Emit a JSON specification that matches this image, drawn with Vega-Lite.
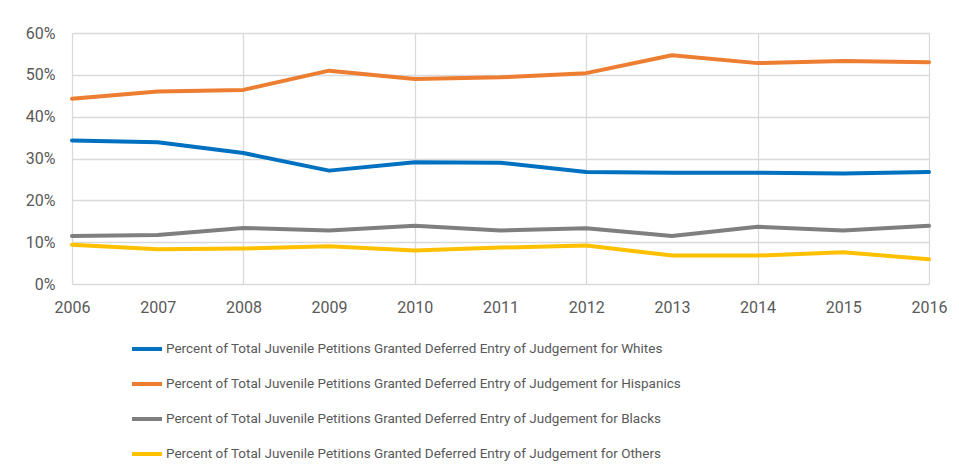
{
  "$schema": "https://vega.github.io/schema/vega-lite/v6.json",
  "autosize": "none",
  "width": 857,
  "height": 251,
  "padding": {"left": 72, "top": 33, "right": 30, "bottom": 192},
  "background": "white",
  "config": {
    "view": {"stroke": null},
    "font": "Roboto",
    "axis": {"labelFont": "Roboto", "labelColor": "#595959", "labelFontSize": 16, "gridColor": "#d9d9d9", "gridWidth": 1.3, "domain": false, "ticks": false, "title": null}
  },
  "data": {
    "values": [
      {"year": 2006, "group": "Percent of Total Juvenile Petitions Granted Deferred Entry of Judgement for Whites", "value": 0.343},
      {"year": 2007, "group": "Percent of Total Juvenile Petitions Granted Deferred Entry of Judgement for Whites", "value": 0.339},
      {"year": 2008, "group": "Percent of Total Juvenile Petitions Granted Deferred Entry of Judgement for Whites", "value": 0.313},
      {"year": 2009, "group": "Percent of Total Juvenile Petitions Granted Deferred Entry of Judgement for Whites", "value": 0.271},
      {"year": 2010, "group": "Percent of Total Juvenile Petitions Granted Deferred Entry of Judgement for Whites", "value": 0.291},
      {"year": 2011, "group": "Percent of Total Juvenile Petitions Granted Deferred Entry of Judgement for Whites", "value": 0.290},
      {"year": 2012, "group": "Percent of Total Juvenile Petitions Granted Deferred Entry of Judgement for Whites", "value": 0.268},
      {"year": 2013, "group": "Percent of Total Juvenile Petitions Granted Deferred Entry of Judgement for Whites", "value": 0.266},
      {"year": 2014, "group": "Percent of Total Juvenile Petitions Granted Deferred Entry of Judgement for Whites", "value": 0.266},
      {"year": 2015, "group": "Percent of Total Juvenile Petitions Granted Deferred Entry of Judgement for Whites", "value": 0.264},
      {"year": 2016, "group": "Percent of Total Juvenile Petitions Granted Deferred Entry of Judgement for Whites", "value": 0.268},
      {"year": 2006, "group": "Percent of Total Juvenile Petitions Granted Deferred Entry of Judgement for Hispanics", "value": 0.443},
      {"year": 2007, "group": "Percent of Total Juvenile Petitions Granted Deferred Entry of Judgement for Hispanics", "value": 0.460},
      {"year": 2008, "group": "Percent of Total Juvenile Petitions Granted Deferred Entry of Judgement for Hispanics", "value": 0.464},
      {"year": 2009, "group": "Percent of Total Juvenile Petitions Granted Deferred Entry of Judgement for Hispanics", "value": 0.510},
      {"year": 2010, "group": "Percent of Total Juvenile Petitions Granted Deferred Entry of Judgement for Hispanics", "value": 0.490},
      {"year": 2011, "group": "Percent of Total Juvenile Petitions Granted Deferred Entry of Judgement for Hispanics", "value": 0.494},
      {"year": 2012, "group": "Percent of Total Juvenile Petitions Granted Deferred Entry of Judgement for Hispanics", "value": 0.504},
      {"year": 2013, "group": "Percent of Total Juvenile Petitions Granted Deferred Entry of Judgement for Hispanics", "value": 0.547},
      {"year": 2014, "group": "Percent of Total Juvenile Petitions Granted Deferred Entry of Judgement for Hispanics", "value": 0.528},
      {"year": 2015, "group": "Percent of Total Juvenile Petitions Granted Deferred Entry of Judgement for Hispanics", "value": 0.533},
      {"year": 2016, "group": "Percent of Total Juvenile Petitions Granted Deferred Entry of Judgement for Hispanics", "value": 0.530},
      {"year": 2006, "group": "Percent of Total Juvenile Petitions Granted Deferred Entry of Judgement for Blacks", "value": 0.115},
      {"year": 2007, "group": "Percent of Total Juvenile Petitions Granted Deferred Entry of Judgement for Blacks", "value": 0.117},
      {"year": 2008, "group": "Percent of Total Juvenile Petitions Granted Deferred Entry of Judgement for Blacks", "value": 0.134},
      {"year": 2009, "group": "Percent of Total Juvenile Petitions Granted Deferred Entry of Judgement for Blacks", "value": 0.128},
      {"year": 2010, "group": "Percent of Total Juvenile Petitions Granted Deferred Entry of Judgement for Blacks", "value": 0.139},
      {"year": 2011, "group": "Percent of Total Juvenile Petitions Granted Deferred Entry of Judgement for Blacks", "value": 0.128},
      {"year": 2012, "group": "Percent of Total Juvenile Petitions Granted Deferred Entry of Judgement for Blacks", "value": 0.133},
      {"year": 2013, "group": "Percent of Total Juvenile Petitions Granted Deferred Entry of Judgement for Blacks", "value": 0.115},
      {"year": 2014, "group": "Percent of Total Juvenile Petitions Granted Deferred Entry of Judgement for Blacks", "value": 0.137},
      {"year": 2015, "group": "Percent of Total Juvenile Petitions Granted Deferred Entry of Judgement for Blacks", "value": 0.128},
      {"year": 2016, "group": "Percent of Total Juvenile Petitions Granted Deferred Entry of Judgement for Blacks", "value": 0.139},
      {"year": 2006, "group": "Percent of Total Juvenile Petitions Granted Deferred Entry of Judgement for Others", "value": 0.094},
      {"year": 2007, "group": "Percent of Total Juvenile Petitions Granted Deferred Entry of Judgement for Others", "value": 0.083},
      {"year": 2008, "group": "Percent of Total Juvenile Petitions Granted Deferred Entry of Judgement for Others", "value": 0.085},
      {"year": 2009, "group": "Percent of Total Juvenile Petitions Granted Deferred Entry of Judgement for Others", "value": 0.090},
      {"year": 2010, "group": "Percent of Total Juvenile Petitions Granted Deferred Entry of Judgement for Others", "value": 0.080},
      {"year": 2011, "group": "Percent of Total Juvenile Petitions Granted Deferred Entry of Judgement for Others", "value": 0.087},
      {"year": 2012, "group": "Percent of Total Juvenile Petitions Granted Deferred Entry of Judgement for Others", "value": 0.092},
      {"year": 2013, "group": "Percent of Total Juvenile Petitions Granted Deferred Entry of Judgement for Others", "value": 0.068},
      {"year": 2014, "group": "Percent of Total Juvenile Petitions Granted Deferred Entry of Judgement for Others", "value": 0.068},
      {"year": 2015, "group": "Percent of Total Juvenile Petitions Granted Deferred Entry of Judgement for Others", "value": 0.076},
      {"year": 2016, "group": "Percent of Total Juvenile Petitions Granted Deferred Entry of Judgement for Others", "value": 0.059}
    ]
  },
  "mark": {"type": "line", "strokeWidth": 4, "strokeCap": "round", "strokeJoin": "round"},
  "encoding": {
    "x": {
      "field": "year", "type": "quantitative",
      "scale": {"domain": [2006, 2016], "nice": false, "zero": false},
      "axis": {
        "values": [2006, 2007, 2008, 2009, 2010, 2011, 2012, 2013, 2014, 2015, 2016],
        "format": "d", "labelPadding": 15, "grid": true, "labelFlush": false,
        "gridColor": {"condition": {"test": "datum.value % 2 === 0", "value": "#d9d9d9"}, "value": "transparent"}
      }
    },
    "y": {
      "field": "value", "type": "quantitative",
      "scale": {"domain": [0, 0.6], "nice": false},
      "axis": {"values": [0, 0.1, 0.2, 0.3, 0.4, 0.5, 0.6], "format": ".0%", "labelPadding": 17}
    },
    "color": {
      "field": "group", "type": "nominal",
      "scale": {
        "domain": [
          "Percent of Total Juvenile Petitions Granted Deferred Entry of Judgement for Whites",
          "Percent of Total Juvenile Petitions Granted Deferred Entry of Judgement for Hispanics",
          "Percent of Total Juvenile Petitions Granted Deferred Entry of Judgement for Blacks",
          "Percent of Total Juvenile Petitions Granted Deferred Entry of Judgement for Others"
        ],
        "range": ["#0070C0", "#ED7D31", "#7F7F7F", "#FFC000"]
      },
      "legend": {
        "orient": "none", "legendX": 58, "legendY": 299,
        "title": null, "symbolType": "stroke", "symbolSize": 900, "symbolStrokeWidth": 4,
        "labelFontSize": 13.5, "labelColor": "#595959", "labelFont": "Roboto", "labelLimit": 0, "labelOffset": 2, "rowPadding": 10
      }
    }
  }
}
